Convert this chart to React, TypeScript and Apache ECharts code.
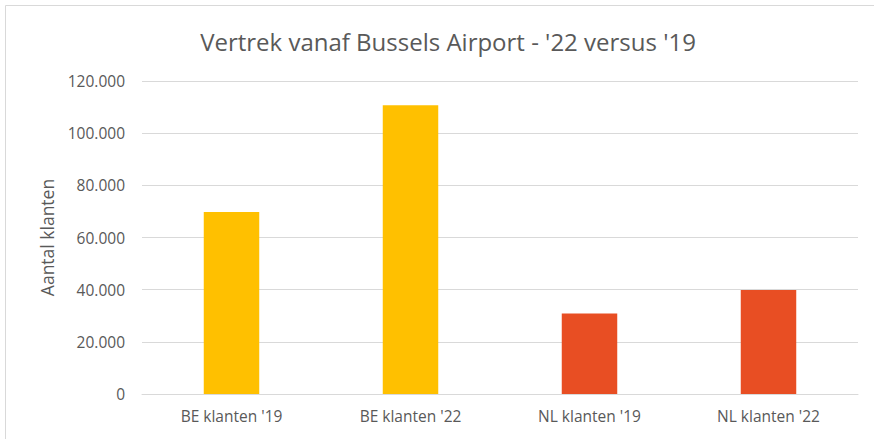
import React, { useEffect, useRef } from "react";
import * as echarts from "echarts";

const categories = ["BE klanten '19", "BE klanten '22", "NL klanten '19", "NL klanten '22"];
const values = [69800, 110700, 30900, 39900];
const yTicks = { min: 0, max: 120000, interval: 20000 };
const titleText = "Vertrek vanaf Bussels Airport - '22 versus '19";
const yAxisName = "Aantal klanten";

const YELLOW = "#FFC000";
const RED = "#E84E23";
const TEXT = "#595959";
const GRID = "#D9D9D9";
const FONT = "'Open Sans', 'Liberation Sans', sans-serif";

const fmt = (v: number) => String(v).replace(/\B(?=(\d{3})+(?!\d))/g, ".");

export default function App() {
  const ref = useRef<HTMLDivElement>(null);
  useEffect(() => {
    if (!ref.current) return;
    const chart = echarts.init(ref.current, undefined, { renderer: "svg" });
    const colors = [YELLOW, YELLOW, RED, RED];
    chart.setOption({
      animation: false,
      backgroundColor: "#fff",
      title: {
        text: titleText,
        left: 443,
        textAlign: "center",
        top: 24,
        textStyle: { fontFamily: FONT, fontSize: 24, fontWeight: "normal", color: TEXT },
      },
      graphic: [
        {
          type: "rect",
          shape: { x: 5.5, y: 5.5, width: 1000, height: 1000 },
          style: { fill: "none", stroke: GRID, lineWidth: 1 },
          silent: true,
          z: -1,
        },
      ],
      grid: { left: 142, right: 16, top: 81, bottom: 45, containLabel: false },
      xAxis: {
        type: "category",
        data: categories,
        axisLine: { show: true, lineStyle: { color: GRID, width: 1 } },
        axisTick: { show: false },
        axisLabel: { color: TEXT, fontFamily: FONT, fontSize: 15.5, margin: 14 },
      },
      yAxis: {
        type: "value",
        min: yTicks.min,
        max: yTicks.max,
        interval: yTicks.interval,
        name: yAxisName,
        nameLocation: "middle",
        nameGap: 86,
        nameTextStyle: { color: TEXT, fontFamily: FONT, fontSize: 17.5 },
        axisLine: { show: false },
        axisTick: { show: false },
        splitLine: { lineStyle: { color: GRID, width: 1 } },
        axisLabel: { color: TEXT, fontFamily: FONT, fontSize: 15.5, margin: 17, formatter: (v: number) => fmt(v) },
      },
      series: [
        {
          type: "bar",
          barWidth: "31%",
          data: values.map((v, i) => ({ value: v, itemStyle: { color: colors[i] } })),
        },
      ],
    });
    return () => chart.dispose();
  }, []);
  return <div ref={ref} style={{ position: "fixed", left: 0, top: 0, width: 874, height: 439 }} />;
}
